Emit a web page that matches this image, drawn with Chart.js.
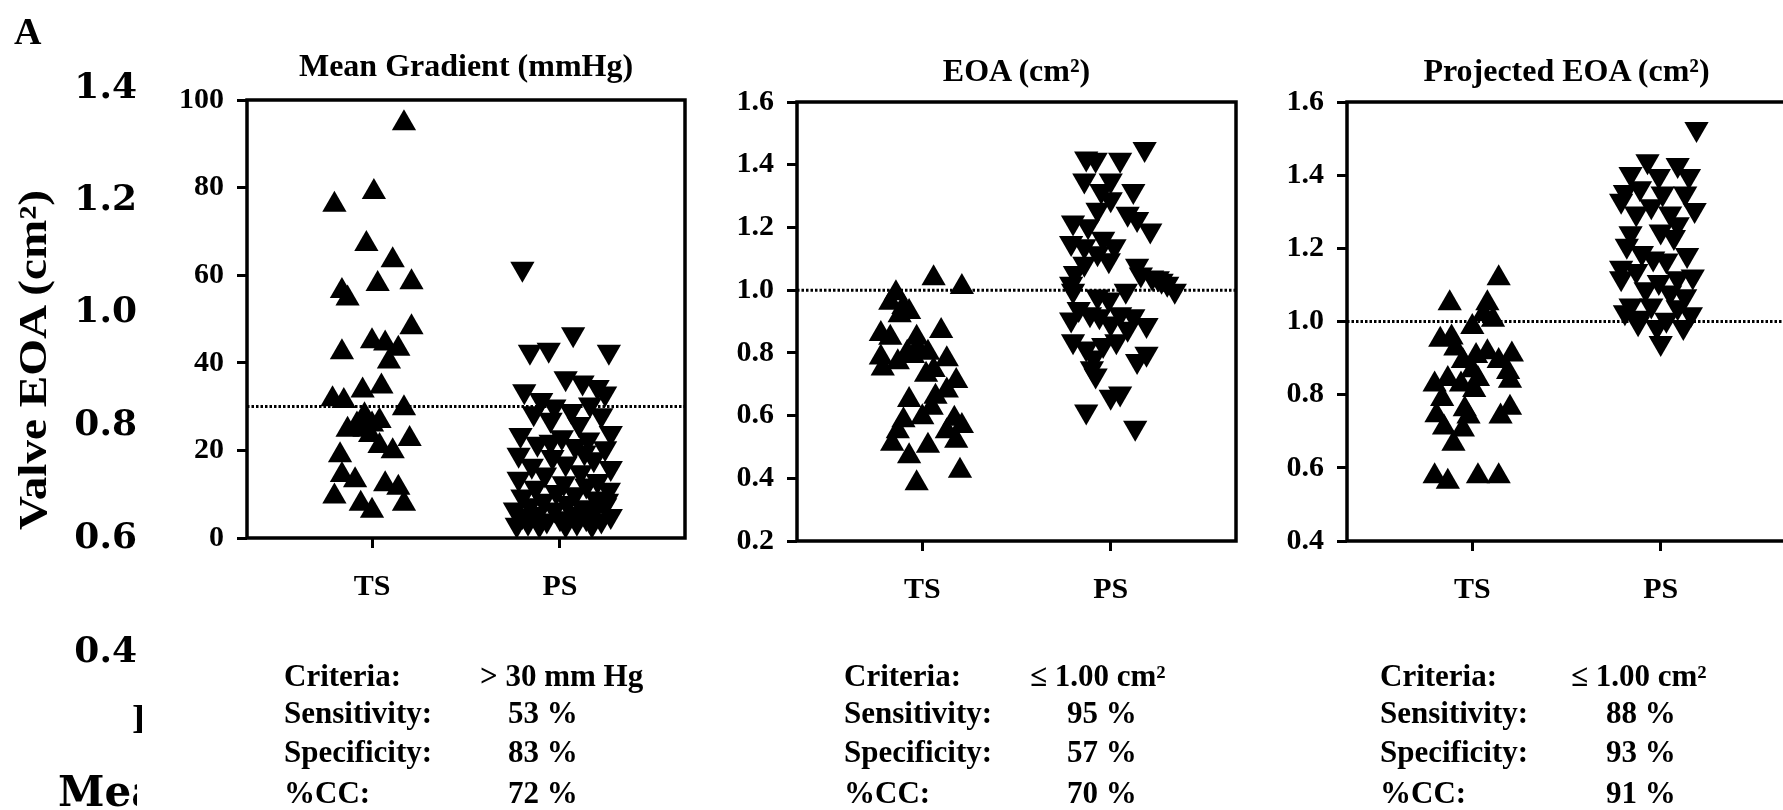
<!DOCTYPE html>
<html><head><meta charset="utf-8">
<script src="https://cdn.jsdelivr.net/npm/chart.js@4.4.1/dist/chart.umd.min.js"></script>
<style>
html,body{margin:0;padding:0;width:1783px;height:810px;overflow:hidden;background:#fff;position:relative;}
canvas{position:absolute;left:0;top:0;}
.t{position:absolute;font-family:"Liberation Serif","Times New Roman",serif;font-weight:bold;color:#000;white-space:nowrap;line-height:1;}
</style></head><body>
<script>
// ---------- data ----------
const groupLabels = ['TS', 'PS'];
const panelTitles = ['Mean Gradient (mmHg)', 'EOA (cm²)', 'Projected EOA (cm²)'];
const thresholds = [30, 1.0, 1.0];
const gradTicks = [0, 20, 40, 60, 80, 100];
const eoaTicks = [0.2, 0.4, 0.6, 0.8, 1.0, 1.2, 1.4, 1.6];
const projTicks = [0.4, 0.6, 0.8, 1.0, 1.2, 1.4, 1.6];
const valveTicks = ['1.4', '1.2', '1.0', '0.8', '0.6', '0.4'];
const tableLabels = ['Criteria:', 'Sensitivity:', 'Specificity:', '%CC:'];
const gradStats = ['> 30 mm Hg', '53 %', '83 %', '72 %'];
const eoaStats = ['≤ 1.00 cm²', '95 %', '57 %', '70 %'];
const projStats = ['≤ 1.00 cm²', '88 %', '93 %', '91 %'];

// [horizontal spread within group, value]
const gradTS = [[0.17,94.7],[-0.20,76.1],[0.01,79.0],[-0.03,67.1],[0.11,63.4],[0.21,58.4],[0.03,58.0],[-0.16,56.4],[-0.13,54.7],[0.21,48.1],[-0.16,42.4],[0.00,44.9],[0.07,44.4],[0.14,43.2],[0.09,40.3],[0.05,34.6],[-0.05,33.7],[-0.21,31.7],[-0.15,31.3],[0.17,29.6],[-0.04,28.0],[-0.08,25.9],[0.00,25.9],[0.04,26.7],[-0.13,24.7],[-0.01,23.5],[0.20,22.6],[0.04,21.0],[0.11,19.8],[-0.17,18.9],[-0.16,14.4],[-0.09,13.2],[0.07,12.3],[0.14,11.5],[-0.20,9.5],[-0.06,7.8],[0.17,7.8],[0.00,6.2],[-0.04,24.7]];
const gradPS = [[-0.20,61.5],[-0.16,42.5],[-0.06,43],[0.07,46.5],[0.26,42.5],[0.03,36.5],[0.12,35.5],[0.20,34.5],[-0.19,33.5],[-0.10,31.5],[0.24,33],[0.16,30.5],[-0.03,30],[0.06,29],[-0.14,28.5],[0.22,28],[-0.05,27],[0.10,26],[0.27,24],[-0.21,23.5],[0.01,23],[0.15,22.5],[-0.12,21.5],[0.08,21],[0.24,20.5],[-0.22,19],[-0.04,18.5],[0.18,18],[0.03,17],[-0.15,16.5],[0.27,16],[0.11,15],[-0.08,14.5],[-0.22,13.5],[0.20,13],[0.02,12.5],[0.14,12],[-0.13,11.5],[0.26,11],[-0.02,10.5],[0.08,10],[-0.20,9.5],[0.19,9],[-0.09,8.5],[0.04,8],[0.24,7.5],[-0.16,7.5],[0.12,7],[-0.24,6.5],[-0.03,6.5],[0.18,6],[0.07,5.5],[-0.12,5.5],[0.27,5],[-0.20,5],[0.00,4.5],[0.14,4.5],[-0.07,4],[0.22,4],[-0.17,3.5],[0.09,3.5],[0.03,3],[-0.23,3],[0.17,3],[-0.11,3],[0.25,8.5],[-0.05,22],[0.13,19.5]];
const eoaTS = [[0.06,1.038],[0.21,1.01],[-0.14,0.99],[-0.17,0.96],[-0.10,0.946],[-0.07,0.93],[-0.22,0.86],[-0.17,0.848],[-0.03,0.848],[0.10,0.87],[-0.22,0.785],[-0.21,0.75],[-0.13,0.77],[-0.08,0.80],[-0.02,0.81],[0.03,0.80],[0.13,0.78],[0.06,0.745],[0.02,0.73],[0.18,0.71],[-0.07,0.65],[0.13,0.68],[0.07,0.66],[0.05,0.625],[0.00,0.595],[-0.10,0.585],[0.17,0.59],[0.21,0.567],[-0.13,0.55],[0.13,0.55],[-0.16,0.51],[0.18,0.52],[0.03,0.504],[-0.07,0.47],[0.20,0.424],[-0.03,0.384],[-0.12,0.92],[-0.05,0.79]];
const eoaPS = [[0.18,1.45],[-0.13,1.42],[-0.08,1.416],[0.05,1.416],[-0.14,1.35],[0.00,1.35],[-0.05,1.316],[0.12,1.316],[0.00,1.29],[-0.07,1.256],[0.09,1.244],[-0.20,1.216],[-0.12,1.204],[0.14,1.227],[0.21,1.19],[-0.04,1.164],[-0.21,1.15],[-0.14,1.14],[0.02,1.14],[-0.07,1.118],[-0.01,1.095],[-0.14,1.084],[-0.19,1.055],[0.14,1.078],[0.16,1.05],[0.25,1.038],[0.30,1.02],[0.34,0.998],[-0.21,1.02],[-0.20,0.998],[0.08,0.998],[-0.07,0.98],[-0.01,0.97],[-0.17,0.94],[-0.11,0.923],[-0.21,0.906],[-0.06,0.917],[0.05,0.923],[0.12,0.917],[0.00,0.894],[0.19,0.889],[0.09,0.877],[-0.20,0.837],[-0.13,0.814],[-0.04,0.825],[0.03,0.837],[0.19,0.797],[-0.09,0.785],[0.14,0.774],[-0.10,0.751],[-0.08,0.728],[0.00,0.66],[0.05,0.67],[-0.13,0.613],[0.13,0.561],[0.27,1.03],[0.22,1.04]];
const projTS = [[0.14,1.118],[-0.12,1.05],[0.08,1.05],[0.06,1.02],[0.11,1.005],[0.00,0.985],[-0.17,0.95],[-0.11,0.956],[-0.09,0.926],[0.08,0.916],[0.21,0.91],[0.02,0.906],[-0.05,0.892],[0.14,0.892],[0.19,0.862],[0.00,0.867],[0.03,0.843],[-0.20,0.828],[0.20,0.838],[-0.06,0.828],[0.01,0.813],[-0.16,0.788],[-0.04,0.76],[0.20,0.764],[-0.19,0.744],[-0.02,0.74],[0.15,0.74],[-0.15,0.71],[-0.05,0.705],[-0.10,0.666],[-0.20,0.577],[-0.13,0.562],[0.03,0.577],[0.14,0.577],[-0.13,0.843]];
const projPS = [[0.19,1.526],[-0.07,1.438],[0.09,1.428],[-0.16,1.403],[-0.01,1.398],[0.15,1.398],[-0.19,1.354],[-0.11,1.364],[0.01,1.35],[0.13,1.35],[-0.21,1.33],[-0.05,1.315],[0.18,1.305],[-0.13,1.295],[0.05,1.295],[0.09,1.266],[-0.16,1.241],[0.00,1.246],[0.07,1.231],[-0.18,1.207],[-0.10,1.187],[0.14,1.182],[-0.04,1.172],[0.03,1.167],[-0.21,1.147],[-0.13,1.138],[0.17,1.123],[0.09,1.118],[-0.21,1.118],[-0.01,1.108],[-0.08,1.088],[0.05,1.079],[0.13,1.069],[-0.16,1.044],[-0.05,1.044],[0.09,1.039],[-0.19,1.025],[0.16,1.02],[-0.11,1.01],[0.03,1.005],[-0.02,0.985],[0.12,0.985],[-0.12,0.995],[0.00,0.941]];

// ---------- layout ----------
const CW = 1850, CH = 810, YW = 100, XH = 80;
const XMIN = -0.665, XMAX = 1.665;
const SERIF = '"Liberation Serif","Times New Roman",serif';
const tickFont = {family: SERIF, size: 30, weight: 'bold'};

const boxPlugin = {
  id: 'box',
  afterDatasetsDraw(c) {
    const a = c.chartArea, ctx = c.ctx;
    ctx.save(); ctx.lineWidth = 3.5; ctx.strokeStyle = '#000';
    ctx.strokeRect(a.left, a.top, a.right - a.left, a.bottom - a.top);
    ctx.restore();
  }
};

function panel(cfg) {
  const cv = document.createElement('canvas');
  cv.width = CW; cv.height = CH;
  cv.style.width = CW + 'px'; cv.style.height = CH + 'px';
  document.body.appendChild(cv);
  const gridOpt = {drawOnChartArea: false, drawTicks: true, tickLength: 10, color: '#000', lineWidth: 3};
  new Chart(cv, {
    type: 'scatter',
    data: {datasets: [
      {data: cfg.ts.map(p => ({x: 0 + p[0], y: p[1]})), pointStyle: 'triangle', pointRadius: 14,
       backgroundColor: '#000', borderColor: '#000', pointBorderWidth: 0},
      {data: cfg.ps.map(p => ({x: 1 + p[0], y: p[1]})), pointStyle: 'triangle', rotation: 180, pointRadius: 14,
       backgroundColor: '#000', borderColor: '#000', pointBorderWidth: 0},
      {type: 'line', data: [{x: XMIN, y: cfg.thr}, {x: XMAX, y: cfg.thr}], borderColor: '#000',
       borderWidth: 3, borderDash: [2.5, 2], pointRadius: 0, fill: false}
    ]},
    options: {
      responsive: false, animation: false, devicePixelRatio: 1,
      layout: {padding: {left: cfg.L - YW, top: cfg.T, right: CW - cfg.R, bottom: CH - cfg.B - XH}},
      plugins: {legend: {display: false}, tooltip: {enabled: false}},
      scales: {
        x: {type: 'linear', min: XMIN, max: XMAX,
            afterFit(s) { s.height = XH; },
            afterBuildTicks(s) { s.ticks = groupLabels.map((_, i) => ({value: i})); },
            ticks: {callback: v => groupLabels[v], font: tickFont, color: '#000', padding: 21, maxRotation: 0, autoSkip: false},
            grid: gridOpt, border: {display: false}},
        y: {type: 'linear', min: cfg.ticks[0], max: cfg.ticks[cfg.ticks.length - 1],
            afterFit(s) { s.width = YW; },
            afterBuildTicks(s) { s.ticks = cfg.ticks.map(v => ({value: v})); },
            ticks: {callback: v => cfg.fmt(v), font: tickFont, color: '#000', padding: 13, autoSkip: false},
            grid: gridOpt, border: {display: false}}
      }
    },
    plugins: [boxPlugin]
  });
}

const panels = [
  {ts: gradTS, ps: gradPS, thr: thresholds[0], ticks: gradTicks, fmt: v => String(v), L: 247, R: 685, T: 100, B: 538, stats: gradStats, tl: 284, tv: 480, tp: 508, ty: 66},
  {ts: eoaTS, ps: eoaPS, thr: thresholds[1], ticks: eoaTicks, fmt: v => v.toFixed(1), L: 797, R: 1236, T: 102, B: 541, stats: eoaStats, tl: 844, tv: 1030, tp: 1067, ty: 71},
  {ts: projTS, ps: projPS, thr: thresholds[2], ticks: projTicks, fmt: v => v.toFixed(1), L: 1347, R: 1786, T: 102, B: 541, stats: projStats, tl: 1380, tv: 1571, tp: 1606, ty: 71}
];
panels.forEach(panel);

// ---------- texts ----------
function txt(s, x, cy, size, align, extra) {
  const d = document.createElement('div');
  d.className = 't';
  d.textContent = s;
  d.style.fontSize = size + 'px';
  d.style.top = (cy - 0.52 * size) + 'px';
  if (align === 'right') { d.style.right = (1783 - x) + 'px'; }
  else if (align === 'center') { d.style.left = x + 'px'; d.style.transform = 'translateX(-50%)'; }
  else { d.style.left = x + 'px'; }
  if (extra) Object.assign(d.style, extra);
  document.body.appendChild(d);
  return d;
}
panels.forEach((p, i) => {
  txt(panelTitles[i], (p.L + p.R) / 2, p.ty, 32, 'center');
  const rows = [676, 713, 752, 793];
  tableLabels.forEach((lab, r) => {
    txt(lab, p.tl, rows[r], 31, 'left');
    txt(p.stats[r], r === 0 ? p.tv : p.tp, rows[r], 31, 'left');
  });
});
txt('A', 14, 32, 38, 'left');
const vy = [86, 198, 310, 423, 536, 650];
valveTicks.forEach((s, i) => txt(s, 137, vy[i], 36, 'right', {fontFamily: '"DejaVu Serif",serif'}));
// rotated axis title
const yt = txt('Valve EOA (cm²)', 33, 0, 40, 'left');
yt.style.left = '33px'; yt.style.top = '360px';
yt.style.transform = 'translate(-50%,-50%) rotate(-90deg) scaleX(1.18)';
// clipped fragments on the left margin
function clipped(s, x, cy, size, w, fam) {
  const box = document.createElement('div');
  box.style.cssText = 'position:absolute;overflow:hidden;left:' + x + 'px;top:' + (cy - size * 0.7) + 'px;width:' + w + 'px;height:' + (size * 1.4) + 'px;';
  const d = document.createElement('div');
  d.className = 't'; d.textContent = s; d.style.fontSize = size + 'px';
  d.style.left = '0px'; d.style.top = (size * 0.18) + 'px';
  if (fam) d.style.fontFamily = fam;
  box.appendChild(d); document.body.appendChild(box);
}
clipped('I', 132, 720, 42, 10);
clipped('Mea', 58, 793, 42, 79, '"DejaVu Serif",serif');
</script>
</body></html>
